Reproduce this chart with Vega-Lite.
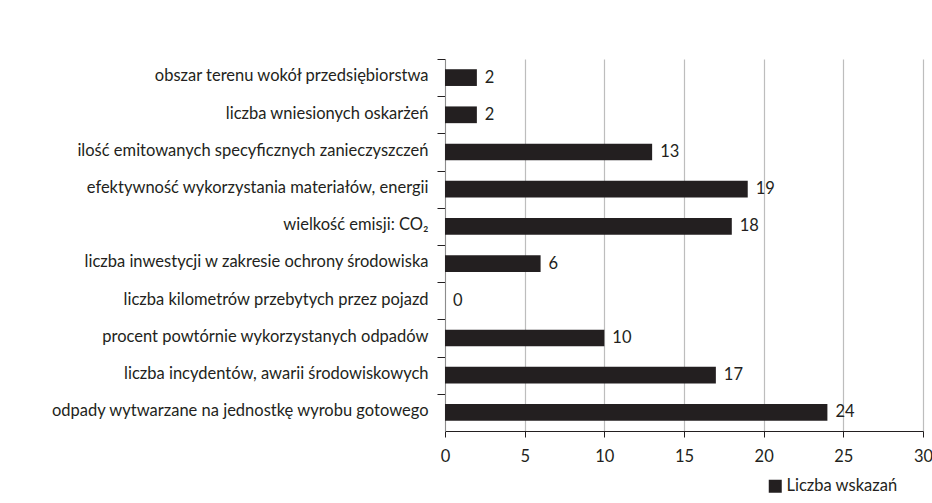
{
  "$schema": "https://vega.github.io/schema/vega-lite/v6.json",
  "width": 478,
  "height": 372,
  "autosize": {"type": "none"},
  "padding": {"left": 445, "top": 59, "right": 9, "bottom": 72},
  "background": "white",
  "config": {
    "font": "Lato",
    "view": {"stroke": null},
    "axis": {"labelFont": "Lato", "labelColor": "#231f20", "titleFont": "Lato"},
    "legend": {"labelFont": "Lato"}
  },
  "data": {
    "values": [
      {"kategoria": "obszar terenu wokół przedsiębiorstwa ", "wartosc": 2},
      {"kategoria": "liczba wniesionych oskarżeń", "wartosc": 2},
      {"kategoria": "ilość emitowanych specyficznych zanieczyszczeń ", "wartosc": 13},
      {"kategoria": "efektywność wykorzystania materiałów, energii", "wartosc": 19},
      {"kategoria": "wielkość emisji: CO₂", "wartosc": 18},
      {"kategoria": "liczba inwestycji w zakresie ochrony środowiska", "wartosc": 6},
      {"kategoria": "liczba kilometrów przebytych przez pojazd  ", "wartosc": 0},
      {"kategoria": "procent powtórnie wykorzystanych odpadów", "wartosc": 10},
      {"kategoria": "liczba incydentów, awarii środowiskowych ", "wartosc": 17},
      {"kategoria": "odpady wytwarzane na jednostkę wyrobu gotowego", "wartosc": 24}
    ]
  },
  "encoding": {
    "y": {
      "field": "kategoria",
      "type": "nominal",
      "sort": null,
      "scale": {"paddingInner": 0.55, "paddingOuter": 0.275},
      "axis": {
        "orient": "left",
        "title": null,
        "ticks": true,
        "tickSize": 8,
        "tickColor": "#231f20",
        "tickWidth": 1,
        "bandPosition": 0,
        "tickOffset": -10.2,
        "labelOffset": 8.4,
        "labelPadding": 9,
        "labelFontSize": 16.5,
        "labelLimit": 500,
        "domain": true,
        "domainColor": "#8c8c8c",
        "domainWidth": 1,
        "grid": false
      }
    },
    "x": {
      "field": "wartosc",
      "type": "quantitative",
      "scale": {"domain": [0, 30], "nice": false},
      "axis": {
        "title": null,
        "values": [0, 5, 10, 15, 20, 25, 30],
        "grid": true,
        "gridColor": "#bdbdbd",
        "gridWidth": 1.2,
        "domainColor": "#231f20",
        "domainWidth": 1.2,
        "tickColor": "#231f20",
        "tickSize": 6,
        "labelPadding": 11,
        "labelFontSize": 16.5,
        "labelFlush": false
      }
    }
  },
  "layer": [
    {
      "mark": {"type": "bar", "color": "#231f20"},
      "encoding": {
        "color": {
          "datum": "Liczba wskazań",
          "type": "nominal",
          "scale": {"range": ["#231f20"]},
          "legend": {
            "title": null,
            "orient": "none",
            "legendX": 322,
            "legendY": 419,
            "symbolType": "square",
            "symbolSize": 169,
            "symbolStrokeWidth": 0,
            "symbolFillColor": "#231f20",
            "labelFontSize": 16.5,
            "labelColor": "#231f20",
            "labelOffset": 3
          }
        }
      }
    },
    {
      "mark": {"type": "text", "align": "left", "baseline": "middle", "dx": 8, "fontSize": 16.5, "color": "#231f20"},
      "encoding": {
        "text": {"field": "wartosc", "type": "quantitative"}
      }
    }
  ]
}
